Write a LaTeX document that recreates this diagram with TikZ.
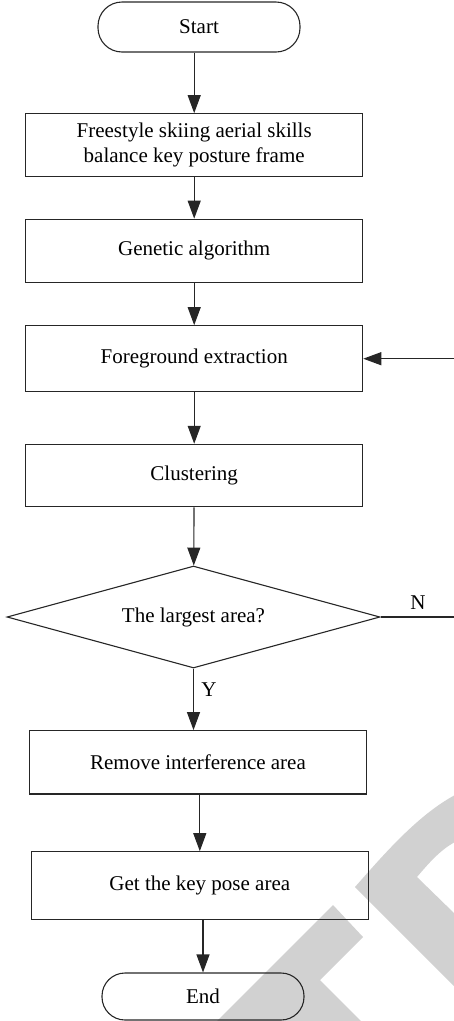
\documentclass[tikz,border=0pt]{standalone}
\usepackage{fontspec}
\setmainfont{Liberation Serif}
\usetikzlibrary{shapes.geometric,arrows.meta}
\begin{document}
\begin{tikzpicture}[x=1pt,y=-1pt,
  txt/.style={font=\fontsize{21}{25}\selectfont},
  box/.style={txt, draw=black!85, line width=1.1pt, minimum width=337pt, inner sep=0pt, align=center},
  term/.style={box, rounded corners=24pt, minimum width=202pt},
  dec/.style={txt, diamond, draw=black!85, line width=1.1pt, aspect=3.66, minimum width=373pt, minimum height=102pt, inner sep=0pt},
  arr/.style={draw=black!85, line width=1.1pt, -{Triangle[length=18pt,width=13pt]}},
  lbl/.style={txt, inner sep=0pt},
  wm/.style={fill=black!18, draw=none}]
\useasboundingbox (0,0) rectangle (454,1021);
% watermark
\fill[wm] (455,795) .. controls (418,815) and (385,853) .. (355,887) -- (455,987) -- (455,914) -- (417,877) .. controls (428,864) and (440,850) .. (455,842) -- cycle;
\fill[wm] (333,905) -- (363,937) -- (320,980) -- (361,1021) -- (217,1021) -- cycle;
% nodes
\node[term, minimum height=50pt] (start) at (199,27) {Start};
\node[box, minimum height=63pt] (b1) at (194.2,145.2) {Freestyle skiing aerial skills\\balance key posture frame};
\node[box, minimum height=63pt] (b2) at (194.2,250.7) {Genetic algorithm};
\node[box, minimum height=66pt] (b3) at (194.2,358.7) {Foreground extraction};
\node[box, minimum height=62.4pt] (b4) at (194.2,475.5) {Clustering};
\node[dec] (dia) at (193.5,617) {The largest area?};
\node[box, minimum height=63.3pt] (b5) at (198,762.3) {Remove interference area};
\node[box, minimum height=67.6pt] (b6) at (199.8,885.5) {Get the key pose area};
\node[term, minimum height=47pt, rounded corners=23pt] (end) at (203,996.5) {End};
\node[lbl] (nlab) at (418,603) {N};
\node[lbl] (ylab) at (209,690) {Y};
\coordinate (loopa) at (455,617);
\coordinate (loopb) at (455,358.7);
% connectors
\draw[arr] (start.south -| b1.north) -- (b1.north);
\draw[arr] (b1) -- (b2);
\draw[arr] (b2) -- (b3);
\draw[arr] (b3) -- (b4);
\draw[arr] (b4) -- (dia);
\draw[arr] (dia.south) -- (dia.south |- b5.north);
\draw[arr] (b6.north |- b5.south) -- (b6.north);
\draw[arr] (end.north |- b6.south) -- (end.north);
\draw[arr] (dia.east) -- (loopa) -- (loopb) -- (b3.east);
\end{tikzpicture}
\end{document}
